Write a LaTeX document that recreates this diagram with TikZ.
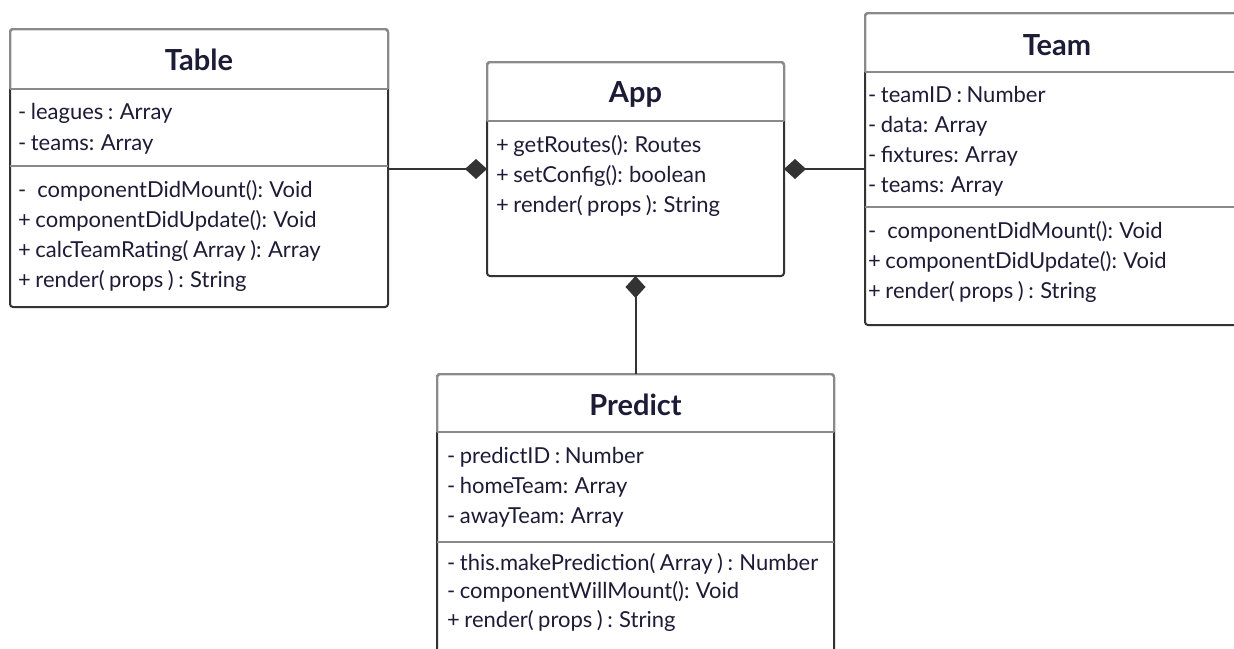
\documentclass[tikz,border=0pt]{standalone}
\usepackage{fontspec}
\setmainfont{Lato}[WordSpace=0.8]
\usetikzlibrary{arrows.meta}
\definecolor{ink}{HTML}{1E1B36}
\definecolor{edge}{HTML}{333333}
\definecolor{hedge}{HTML}{8A8A8A}
\begin{document}
\begin{tikzpicture}[x=1pt,y=-1pt,
  box/.style={draw=edge, line width=2pt, rounded corners=3pt, anchor=north west, inner sep=0pt, outer sep=0pt},
  ctitle/.style={font=\fontsize{29}{34}\selectfont\bfseries, text=ink, anchor=base, inner sep=0pt},
  item/.style={font=\fontsize{22}{26}\selectfont, text=ink, anchor=base west, inner sep=0pt},
  sepline/.style={draw=hedge, line width=2pt},
  comp/.style={draw=edge, line width=2pt, -{Diamond[length=22pt,width=20pt]}}]
\useasboundingbox[fill=white] (0,0) rectangle (1234,648);

% ---------- Table ----------
\node[box, minimum width=378pt, minimum height=278pt] (table) at (10,29) {};
\draw[sepline, rounded corners=3pt] (table.west |- 0,89) -- (table.north west) -- (table.north east) -- (table.east |- 0,89);
\draw[sepline] (table.west |- 0,89) -- (table.east |- 0,89);
\draw[sepline] (table.west |- 0,166) -- (table.east |- 0,166);
\node[ctitle] (tableT) at (199,70) {Table};
\node[item] (t1) at (18,119) {- leagues : Array};
\node[item] (t2) at (18,150) {- teams: Array};
\node[item] (t3) at (18,197) {-\hspace{0.5em}componentDidMount(): Void};
\node[item] (t4) at (18,227) {+ componentDidUpdate(): Void};
\node[item] (t5) at (18,257) {+ calcTeamRating( Array ): Array};
\node[item] (t6) at (18,287) {+ render( props ) : String};

% ---------- App ----------
\node[box, minimum width=297pt, minimum height=214pt] (app) at (487,62) {};
\draw[sepline, rounded corners=3pt] (app.west |- 0,121) -- (app.north west) -- (app.north east) -- (app.east |- 0,121);
\draw[sepline] (app.west |- 0,121) -- (app.east |- 0,121);
\node[ctitle] (appT) at (635.5,102) {App};
\node[item] (a1) at (496,152) {+ getRoutes(): Routes};
\node[item] (a2) at (496,182) {+ setConfig(): boolean};
\node[item] (a3) at (496,212) {+ render( props ): String};

% ---------- Team ----------
\node[box, minimum width=385pt, minimum height=312pt] (team) at (865,13) {};
\draw[sepline, rounded corners=3pt] (team.west |- 0,72) -- (team.north west) -- (team.north east) -- (team.east |- 0,72);
\draw[sepline] (team.west |- 0,72) -- (team.east |- 0,72);
\draw[sepline] (team.west |- 0,207) -- (team.east |- 0,207);
\node[ctitle] (teamT) at (1057,55) {Team};
\node[item] (m1) at (868,102) {- teamID : Number};
\node[item] (m2) at (868,132) {- data: Array};
\node[item] (m3) at (868,162) {- fixtures: Array};
\node[item] (m4) at (868,192) {- teams: Array};
\node[item] (m5) at (868,238) {-\hspace{0.5em}componentDidMount(): Void};
\node[item] (m6) at (868,268) {+ componentDidUpdate(): Void};
\node[item] (m7) at (868,298) {+ render( props ) : String};

% ---------- Predict ----------
\node[box, minimum width=397pt, minimum height=290pt] (predict) at (437,374) {};
\draw[sepline, rounded corners=3pt] (predict.west |- 0,432) -- (predict.north west) -- (predict.north east) -- (predict.east |- 0,432);
\draw[sepline] (predict.west |- 0,432) -- (predict.east |- 0,432);
\draw[sepline] (predict.west |- 0,542) -- (predict.east |- 0,542);
\node[ctitle] (predictT) at (635.5,415) {Predict};
\node[item] (p1) at (447,463) {- predictID : Number};
\node[item] (p2) at (447,493) {- homeTeam: Array};
\node[item] (p3) at (447,523) {- awayTeam: Array};
\node[item] (p4) at (447,570) {- this.makePrediction( Array ) : Number};
\node[item] (p5) at (447,598) {- componentWillMount(): Void};
\node[item] (p6) at (447,627) {+ render( props ) : String};

% ---------- Connectors ----------
\draw[comp] (table.east |- app.west) -- (app.west);
\draw[comp] (team.west |- app.east) -- (app.east);
\draw[comp] (predict.north) -- (app.south);
\end{tikzpicture}
\end{document}
